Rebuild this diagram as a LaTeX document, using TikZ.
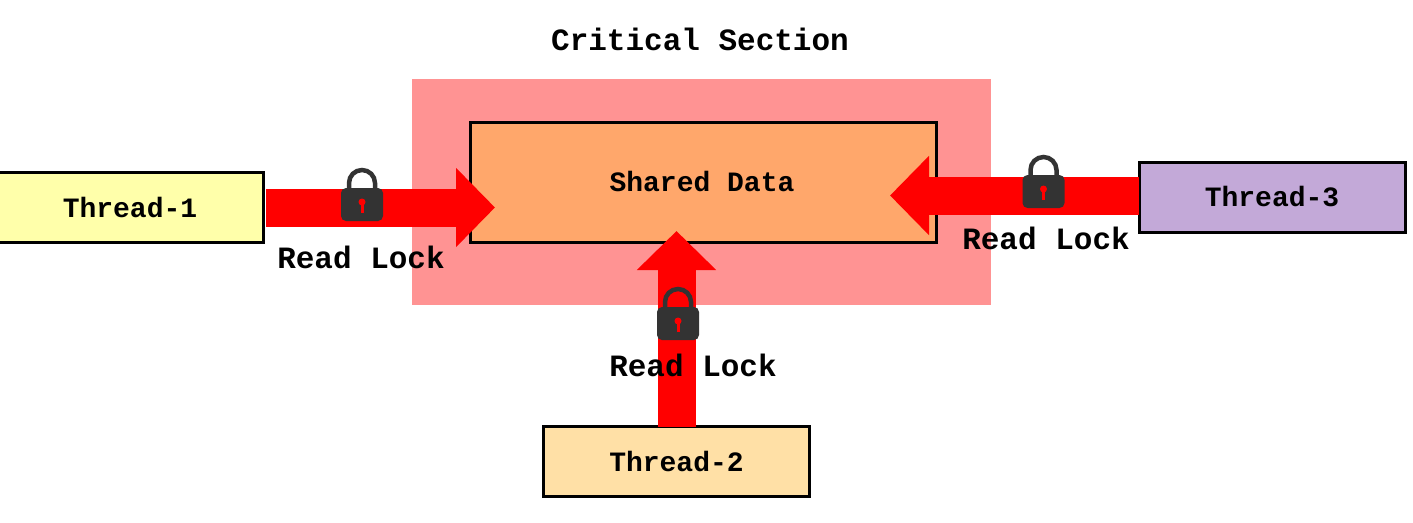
\documentclass[tikz,border=0pt]{standalone}
\usepackage{fontspec}
\usepackage{tikz}
\usetikzlibrary{arrows.meta}
\setmonofont{Liberation Mono}[BoldFont={Liberation Mono Bold}]
\definecolor{sectionred}{HTML}{FF9393}
\definecolor{dataorange}{HTML}{FFA76B}
\definecolor{threadyellow}{HTML}{FFFFAA}
\definecolor{threadtan}{HTML}{FFE0A6}
\definecolor{threadpurple}{HTML}{C3A9D8}
\definecolor{lockgrey}{HTML}{333333}

\tikzset{
  label text/.style={font=\ttfamily\bfseries\fontsize{31}{31}\selectfont,inner sep=0pt},
  box text/.style={font=\ttfamily\bfseries\fontsize{28}{28}\selectfont,inner sep=0pt},
  thread/.style={box text,draw=black,line width=3pt,minimum width=266pt,minimum height=70pt,outer sep=0pt},
  flow/.style={draw=red,line width=38pt,-{Triangle[length=39pt,width=77pt,fill=red]}},
  pics/padlock/.style={code={
    \draw[lockgrey,line width=4.5pt] (-13,-14) -- (-13,-22) arc[start angle=180,end angle=360,radius=13] -- (13,-14);
    \fill[lockgrey,rounded corners=5pt] (-21,-17) rectangle (21,16);
    \fill[red] (0,-3) circle (3.5);
    \fill[red] (-1.5,-2) rectangle (1.5,8);
  }}
}

\begin{document}
\begin{tikzpicture}[x=1pt,y=-1pt]
  \useasboundingbox (0,0) rectangle (1413,522);

  \node[fill=sectionred,minimum width=579pt,minimum height=226pt,inner sep=0pt,outer sep=0pt] (section) at (701.5,192) {};
  \node[thread,fill=dataorange,minimum width=466pt,minimum height=120pt] (shared) at (703,182) {};

  \node[thread,fill=threadyellow] (t1) at (130,207) {Thread-1};
  \node[thread,fill=threadtan] (t2) at (676.5,461.5) {Thread-2};
  \node[thread,fill=threadpurple] (t3) at (1272,197) {Thread-3};

  \node[label text] (title) at (700,39.5) {Critical Section};
  \coordinate (tip1) at (495,207.5);
  \coordinate (tip2) at (676.5,231);
  \coordinate (tip3) at (890,195.5);

  \draw[flow,shorten <=3pt] (t1.east |- tip1) -- (tip1);
  \draw[flow] (t2.north) -- (tip2);
  \draw[flow] (t3.west |- tip3) -- (tip3);

  \node[box text] (shareddata) at (702,181) {Shared Data};

  \pic at (362,205) {padlock};
  \pic at (678,324) {padlock};
  \pic at (1043.5,192) {padlock};

  \node[label text] (r1) at (361,257.5) {Read Lock};
  \node[label text] (r2) at (693,365.5) {Read Lock};
  \node[label text] (r3) at (1046,238.5) {Read Lock};
\end{tikzpicture}
\end{document}
